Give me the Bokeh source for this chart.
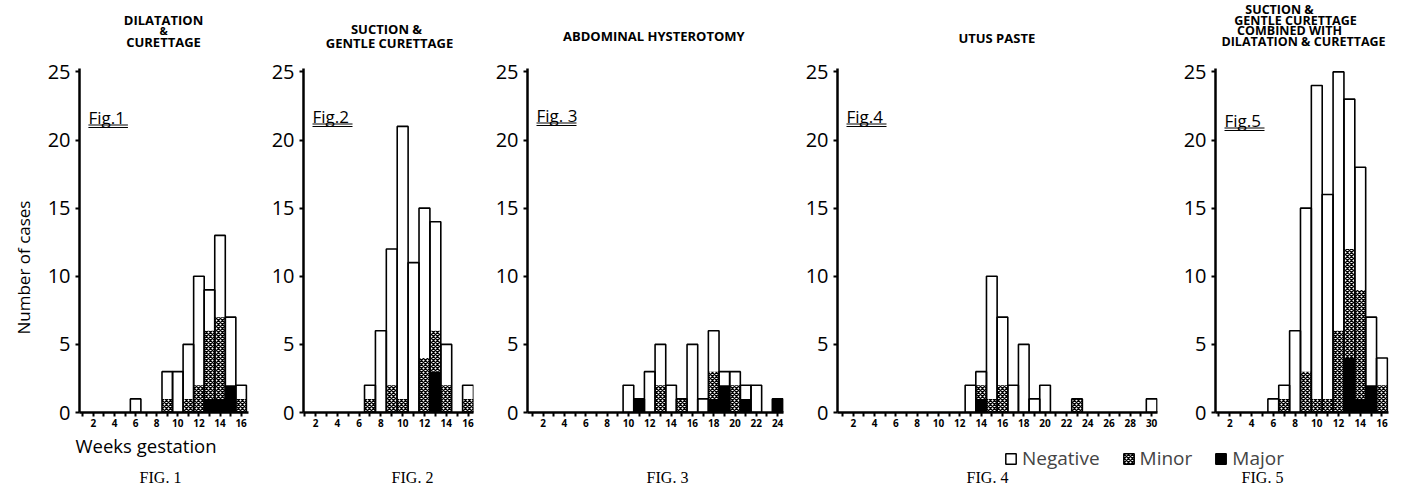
from bokeh.plotting import figure
from bokeh.models import (ColumnDataSource, Range1d, FixedTicker, Label, Title,
                          Arrow, Legend, LegendItem)
from bokeh.layouts import row, column
from bokeh.embed import file_html
from bokeh.resources import INLINE

# ---------------- data (cases per week of gestation) ----------------
fig1_weeks = [6, 9, 10, 11, 12, 13, 14, 15, 16]
fig1_major = [0, 0, 0, 0, 0, 1, 1, 2, 0]
fig1_minor = [0, 1, 0, 1, 2, 5, 6, 0, 1]
fig1_negative = [1, 2, 3, 4, 8, 3, 6, 5, 1]

fig2_weeks = [7, 8, 9, 10, 11, 12, 13, 14, 16]
fig2_major = [0, 0, 0, 0, 0, 0, 3, 0, 0]
fig2_minor = [1, 0, 2, 1, 0, 4, 3, 2, 1]
fig2_negative = [1, 6, 10, 20, 11, 11, 8, 3, 1]

fig3_weeks = [10, 11, 12, 13, 14, 15, 16, 17, 18, 19, 20, 21, 22, 24]
fig3_major = [0, 1, 0, 0, 0, 0, 0, 0, 1, 2, 0, 1, 0, 1]
fig3_minor = [0, 0, 0, 2, 0, 1, 0, 0, 2, 0, 2, 0, 0, 0]
fig3_negative = [2, 0, 3, 3, 2, 0, 5, 1, 3, 1, 1, 1, 2, 0]

fig4_weeks = [13, 14, 15, 16, 17, 18, 19, 20, 23, 30]
fig4_major = [0, 1, 0, 0, 0, 0, 0, 0, 0, 0]
fig4_minor = [0, 1, 1, 2, 0, 0, 0, 0, 1, 0]
fig4_negative = [2, 1, 9, 5, 2, 5, 1, 2, 0, 1]

fig5_weeks = [6, 7, 8, 9, 10, 11, 12, 13, 14, 15, 16]
fig5_major = [0, 0, 0, 0, 0, 0, 0, 4, 1, 2, 0]
fig5_minor = [0, 1, 0, 3, 1, 1, 6, 8, 8, 0, 2]
fig5_negative = [1, 1, 6, 12, 23, 15, 19, 11, 9, 5, 2]

heading_lines = [
    ["DILATATION", "&", "CURETTAGE"],
    ["SUCTION &", "GENTLE CURETTAGE"],
    ["ABDOMINAL  HYSTEROTOMY"],
    ["UTUS  PASTE"],
    ["SUCTION &", "GENTLE CURETTAGE", "COMBINED WITH", "DILATATION & CURETTAGE"],
]
fig_tags = ["Fig.1", "Fig.2", "Fig. 3", "Fig.4", "Fig.5"]
captions = ["FIG. 1", "FIG. 2", "FIG. 3", "FIG. 4", "FIG. 5"]
last_week = [16, 16, 24, 30, 16]
y_ticks = [0, 5, 10, 15, 20, 25]
legend_labels = ["Negative", "Minor", "Major"]
x_title = "Weeks gestation"
y_title = "Number of cases"

# ---------------- layout / style settings (page pixels) ----------------
W = 1407
HEADER_H = 54
PANEL_H = 380
FOOTER_H = 58
TOP = 14
FRAME_H = 344
Y_MAX = 25.25
FRAME_BOTTOM = HEADER_H + TOP + FRAME_H          # page y of the x axis
PX_PER_CASE = FRAME_H / Y_MAX
FONT = "Open Sans"
widths = [255, 235, 310, 365, 242]
lefts = [77, 48, 37, 37, 50]
rights = [7, 17, 17, 8, 19]
x_starts = [0.68, 0.9, 0.53, 0.52, 0.68]
x_ends = [16.7, 16.5, 24.55, 30.55, 16.6]
heading_pos = [
    [(163, 19, "13px"), (163, 30, "11px"), (163, 41.5, "13px")],
    [(386, 28, "13px"), (389, 42.5, "13px")],
    [(655, 35, "13px")],
    [(998, 37, "13px")],
    [(1279, 9, "12.5px"), (1295, 19.5, "12.5px"), (1289, 30, "12.5px"), (1303, 40.5, "12.5px")],
]
tag_y = [117, 116, 115, 116, 120]
caption_pos = [(160, 477), (412, 477), (667, 477), (987, 477), (1262, 477)]

data = [
    (fig1_weeks, fig1_major, fig1_minor, fig1_negative),
    (fig2_weeks, fig2_major, fig2_minor, fig2_negative),
    (fig3_weeks, fig3_major, fig3_minor, fig3_negative),
    (fig4_weeks, fig4_major, fig4_minor, fig4_negative),
    (fig5_weeks, fig5_major, fig5_minor, fig5_negative),
]

HATCH = dict(hatch_pattern="diagonal_cross", hatch_color="black",
             hatch_scale=4.0, hatch_weight=1.4)


def plain(fig):
    fig.title.visible = False
    fig.outline_line_color = None
    fig.grid.visible = False
    fig.background_fill_color = "white"
    fig.border_fill_color = "white"


# ---------------- header strip with the panel headings ----------------
header = figure(width=W, height=HEADER_H, output_backend="svg", toolbar_location=None,
                x_range=Range1d(0, W), y_range=Range1d(HEADER_H, 0), min_border=0,
                x_axis_location=None, y_axis_location=None)
plain(header)
for lines, poss in zip(heading_lines, heading_pos):
    for txt, (hx, hy, fs) in zip(lines, poss):
        header.add_layout(Label(x=hx, y=hy, text=txt, text_align="center",
                                text_baseline="middle", text_font=FONT,
                                text_font_style="bold", text_font_size=fs,
                                text_color="black"))

# ---------------- the five histograms ----------------
panels = []
for i, (weeks, major, minor, negative) in enumerate(data):
    major_minor = [a + b for a, b in zip(major, minor)]
    total = [a + b + c for a, b, c in zip(major, minor, negative)]
    src = ColumnDataSource(dict(week=weeks, major=major, major_minor=major_minor,
                                total=total))
    p = figure(width=widths[i], height=PANEL_H, output_backend="svg",
               toolbar_location=None,
               x_range=Range1d(x_starts[i], x_ends[i]), y_range=Range1d(0, Y_MAX),
               min_border_left=lefts[i], min_border_right=rights[i],
               min_border_top=TOP, min_border_bottom=PANEL_H - TOP - FRAME_H)
    plain(p)

    # stacked bars: major (black) at the bottom, minor (cross-hatched), negative (white)
    p.vbar(x="week", width=1, bottom=0, top="total", source=src,
           fill_color="white", line_color=None)
    p.vbar(x="week", width=1, bottom="major", top="major_minor", source=src,
           fill_color="white", line_color=None, **HATCH)
    p.vbar(x="week", width=1, bottom=0, top="major", source=src,
           fill_color="black", line_color=None)
    p.vbar(x="week", width=1, bottom=0, top="total", source=src,
           fill_color=None, line_color="black", line_width=1.6)

    # x axis
    xa = p.xaxis[0]
    xa.ticker = FixedTicker(ticks=list(range(2, last_week[i] + 1, 2)),
                            minor_ticks=list(range(1, last_week[i] + 1, 2)))
    xa.axis_line_width = 2.5
    xa.major_tick_in = 0
    xa.major_tick_out = 4
    xa.minor_tick_in = 0
    xa.minor_tick_out = 4
    xa.major_tick_line_width = 2
    xa.minor_tick_line_width = 2
    xa.major_label_standoff = 2
    xa.major_label_text_font = FONT
    xa.major_label_text_font_style = "bold"
    xa.major_label_text_font_size = "10px"
    xa.major_label_text_color = "black"

    # y axis
    ya = p.yaxis[0]
    ya.ticker = FixedTicker(ticks=y_ticks)
    ya.axis_line_width = 2.5
    ya.major_tick_in = 0
    ya.major_tick_out = 4
    ya.minor_tick_out = 0
    ya.major_tick_line_width = 2
    ya.major_label_standoff = 5
    ya.major_label_text_font = FONT
    ya.major_label_text_font_size = "20px"
    ya.major_label_text_color = "black"

    frame_w = widths[i] - lefts[i] - rights[i]
    pxw = frame_w / (x_ends[i] - x_starts[i])

    def dy(py):
        return (FRAME_BOTTOM - py) / PX_PER_CASE

    # "Fig.n" tag with a double underline
    fx = x_starts[i] + 9 / pxw
    p.add_layout(Label(x=fx, y=dy(tag_y[i]), text=fig_tags[i], text_font=FONT,
                       text_font_size="17px", text_baseline="middle",
                       text_color="black"))
    for off in (7.5, 10):
        yy = dy(tag_y[i] + off)
        p.add_layout(Arrow(start=None, end=None, x_start=fx, x_end=fx + 40 / pxw,
                           y_start=yy, y_end=yy, line_color="black", line_width=1))

    if i == 0:
        p.add_layout(Title(text=y_title, align="left", offset=78, text_font=FONT,
                           text_font_style="normal", text_font_size="17px",
                           text_color="black", standoff=19), "left")
    panels.append(p)

# ---------------- footer strip: axis title, legend and figure captions ----------------
F_TOP = HEADER_H + PANEL_H
footer = figure(width=W, height=FOOTER_H, output_backend="svg", toolbar_location=None,
                x_range=Range1d(0, W), y_range=Range1d(F_TOP + FOOTER_H, F_TOP),
                min_border=0, x_axis_location=None, y_axis_location=None)
plain(footer)

footer.add_layout(Label(x=75, y=445, text=x_title, text_font=FONT,
                        text_font_size="18.5px", text_baseline="middle",
                        text_align="left", text_color="black"))

# key swatches (renderers kept hidden; only their legend entries are shown)
r_neg = footer.vbar(x=fig4_weeks, top=fig4_negative, width=1, fill_color="white",
                    line_color="black", line_width=1.5, visible=False)
r_min = footer.vbar(x=fig4_weeks, top=fig4_minor, width=1, fill_color="white",
                    line_color="black", line_width=1.5, visible=False, **HATCH)
r_maj = footer.vbar(x=fig4_weeks, top=fig4_major, width=1, fill_color="black",
                    line_color="black", line_width=1.5, visible=False)
legend = Legend(items=[LegendItem(label=legend_labels[0], renderers=[r_neg]),
                       LegendItem(label=legend_labels[1], renderers=[r_min]),
                       LegendItem(label=legend_labels[2], renderers=[r_maj])],
                orientation="horizontal", location=(1004, 21),
                glyph_width=13, glyph_height=13, label_standoff=5, spacing=22,
                padding=0, margin=0, border_line_color=None,
                background_fill_alpha=0, label_text_font=FONT,
                label_text_font_size="19px", label_height=20)
footer.add_layout(legend)

for (cx, cy), cap in zip(caption_pos, captions):
    footer.add_layout(Label(x=cx, y=cy, text=cap, text_align="center",
                            text_baseline="middle", text_font="Liberation Serif",
                            text_font_size="16px", text_color="black"))

layout = column(header, row(*panels), footer)
open("out.html", "w").write(file_html(layout, INLINE))
